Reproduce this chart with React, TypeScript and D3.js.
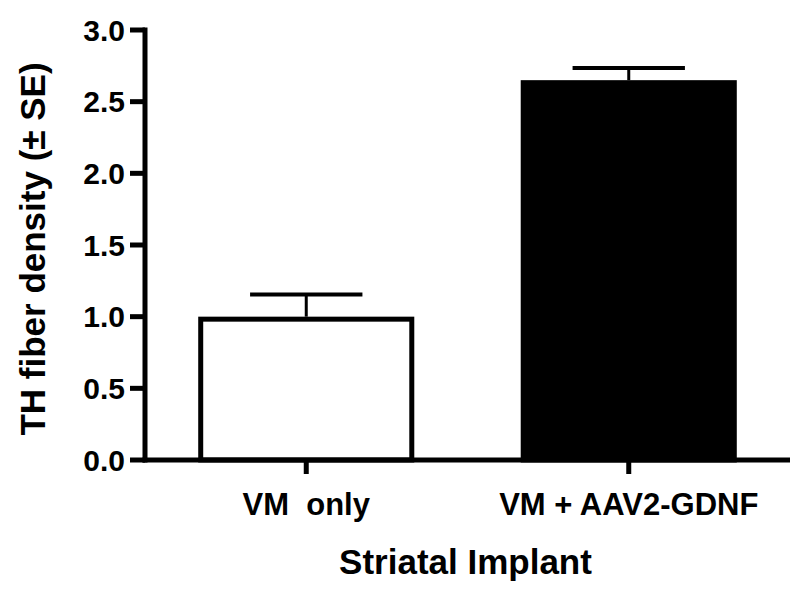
import { scaleLinear, scaleBand } from 'd3'

const categories = ['VM  only', 'VM + AAV2-GDNF']
const means = [1.0, 2.65]
const errors = [0.155, 0.085]
const fills = ['#ffffff', '#000000']
const yTicks = [0, 0.5, 1.0, 1.5, 2.0, 2.5, 3.0]

const W = 800
const H = 590
const left = 145
const right = 790
const top = 30
const bottom = 460
const font = '"Liberation Sans", Arial, Helvetica, sans-serif'

export default function App() {
  const y = scaleLinear().domain([0, 3]).range([bottom, top])
  const x = scaleBand<string>().domain(categories).range([left, right]).paddingInner(0.33).paddingOuter(0.165)
  const bw = x.bandwidth()

  return (
    <svg width={W} height={H} style={{ position: 'absolute', left: 0, top: 0, background: '#fff' }}>
      {categories.map((c, i) => {
        const x0 = x(c) ?? 0
        const cx = x0 + bw / 2
        const capHalf = bw * 0.26
        return (
          <g key={c}>
            <line x1={cx} x2={cx} y1={y(means[i])} y2={y(means[i] + errors[i])} stroke="#000" strokeWidth={3} />
            <line x1={cx - capHalf} x2={cx + capHalf} y1={y(means[i] + errors[i])} y2={y(means[i] + errors[i])} stroke="#000" strokeWidth={4} />
            <rect
              x={x0 + 2.5}
              y={y(means[i]) + 2.5}
              width={bw - 5}
              height={y(0) - y(means[i]) - 2.5}
              fill={fills[i]}
              stroke="#000"
              strokeWidth={5}
            />
          </g>
        )
      })}

      {/* y axis */}
      <line x1={left} x2={left} y1={top - 2.5} y2={bottom + 2.5} stroke="#000" strokeWidth={5} />
      {yTicks.map((t) => (
        <g key={t}>
          <line x1={left - 15} x2={left} y1={y(t)} y2={y(t)} stroke="#000" strokeWidth={5} />
          <text x={left - 20} y={y(t)} dy="0.36em" textAnchor="end" fontFamily={font} fontWeight="bold" fontSize={30} fill="#000">
            {t.toFixed(1)}
          </text>
        </g>
      ))}

      {/* x axis */}
      <line x1={left - 2.5} x2={right} y1={bottom} y2={bottom} stroke="#000" strokeWidth={5} />
      {categories.map((c) => {
        const cx = (x(c) ?? 0) + bw / 2
        return (
          <g key={c}>
            <line x1={cx} x2={cx} y1={bottom} y2={bottom + 14} stroke="#000" strokeWidth={5} />
            <text x={cx} y={515} textAnchor="middle" fontFamily={font} fontWeight="bold" fontSize={31} fill="#000" style={{ whiteSpace: 'pre' }}>
              {c}
            </text>
          </g>
        )
      })}

      <text x={(left + right) / 2 - 2} y={574} textAnchor="middle" fontFamily={font} fontWeight="bold" fontSize={35} fill="#000">
        Striatal Implant
      </text>
      <text
        transform={`translate(45, ${(top + bottom) / 2 + 4}) rotate(-90)`}
        textAnchor="middle"
        fontFamily={font}
        fontWeight="bold"
        fontSize={35}
        fill="#000"
      >
        TH fiber density (± SE)
      </text>
    </svg>
  )
}
